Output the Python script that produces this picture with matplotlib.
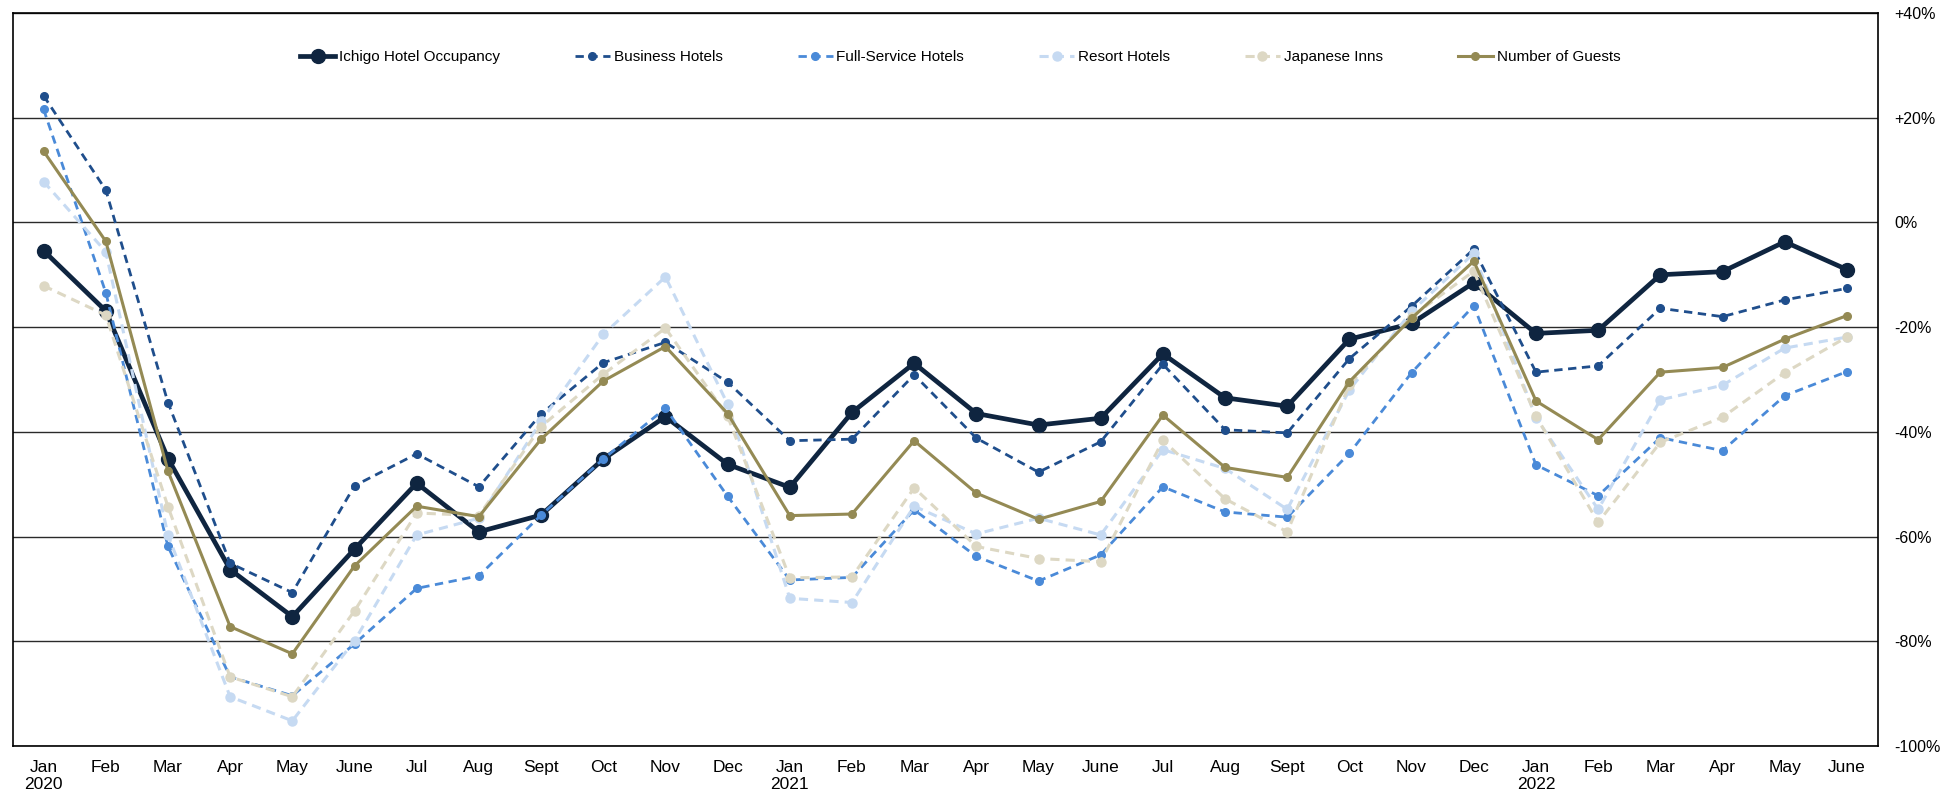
#!/usr/bin/env python3
import matplotlib
matplotlib.use('Agg')
import matplotlib.pyplot as plt
import numpy as np

# month labels, Jan 2020 .. June 2022
months = ['Jan\n2020', 'Feb', 'Mar', 'Apr', 'May', 'June', 'Jul', 'Aug', 'Sept', 'Oct', 'Nov', 'Dec',
          'Jan\n2021', 'Feb', 'Mar', 'Apr', 'May', 'June', 'Jul', 'Aug', 'Sept', 'Oct', 'Nov', 'Dec',
          'Jan\n2022', 'Feb', 'Mar', 'Apr', 'May', 'June']

# values in %
ichigo = [-5.4, -16.9, -45.1, -66.3, -75.3, -62.4, -49.8, -59.1, -55.9, -45.2, -37.1, -46.2,
          -50.6, -36.3, -26.9, -36.5, -38.7, -37.4, -25.1, -33.5, -35.1, -22.3, -19.3, -11.5,
          -21.2, -20.6, -10.0, -9.4, -3.7, -9.0]
business = [24.2, 6.2, -34.4, -65.1, -70.7, -50.3, -44.2, -50.5, -36.6, -26.8, -22.9, -30.5,
            -41.7, -41.4, -29.1, -41.2, -47.7, -41.9, -27.1, -39.6, -40.2, -26.0, -16.0, -5.1,
            -28.6, -27.4, -16.4, -18.0, -14.8, -12.6]
full_service = [21.6, -13.4, -61.9, -86.8, -90.4, -80.5, -69.9, -67.5, -55.9, -45.2, -35.5, -52.3,
                -68.3, -67.8, -54.9, -63.8, -68.5, -63.5, -50.5, -55.3, -56.3, -44.1, -28.7, -15.9,
                -46.3, -52.2, -41.1, -43.6, -33.1, -28.5]
resort = [7.8, -5.6, -59.7, -90.6, -95.2, -79.9, -59.7, -56.5, -38.0, -21.4, -10.4, -34.7,
          -71.8, -72.6, -54.2, -59.5, -56.5, -59.7, -43.4, -47.0, -54.8, -32.0, -17.0, -5.9,
          -37.3, -54.8, -33.9, -31.1, -24.0, -21.9]
inns = [-12.1, -17.7, -54.3, -86.8, -90.6, -74.2, -55.5, -56.0, -39.0, -29.0, -20.2, -37.0,
        -67.9, -67.7, -50.7, -61.9, -64.2, -64.8, -41.6, -52.8, -59.1, -31.0, -18.0, -9.3,
        -37.0, -57.3, -42.0, -37.2, -28.7, -21.9]
guests = [13.6, -3.6, -47.5, -77.2, -82.4, -65.6, -54.2, -56.2, -41.4, -30.3, -23.7, -36.5,
          -56.0, -55.7, -41.7, -51.7, -56.7, -53.3, -36.8, -46.8, -48.7, -30.4, -18.3, -7.4,
          -34.1, -41.5, -28.6, -27.7, -22.3, -17.8]

yticks = [40, 20, 0, -20, -40, -60, -80, -100]
ytick_labels = ['+40%', '+20%', '0%', '-20%', '-40%', '-60%', '-80%', '-100%']

plt.rcParams['font.family'] = ['Liberation Sans', 'DejaVu Sans']

fig = plt.figure(figsize=(19.55, 7.94), dpi=100)
ax = fig.add_axes([0.0064, 0.0605, 0.9542, 0.9231])

x = np.arange(len(months))
dash = (3, 2)
ax.plot(x, ichigo, color='#0f2540', lw=3.4, marker='o', ms=10, label='Ichigo Hotel Occupancy')
ax.plot(x, business, color='#1f4e8c', lw=2, ls=(0, dash), marker='o', ms=5.5, label='Business Hotels')
ax.plot(x, full_service, color='#4a8ad8', lw=2, ls=(0, dash), marker='o', ms=5.5, label='Full-Service Hotels')
ax.plot(x, resort, color='#c6daf2', lw=2.2, ls=(0, dash), marker='o', ms=6.5, label='Resort Hotels')
ax.plot(x, inns, color='#ddd8c4', lw=2.2, ls=(0, dash), marker='o', ms=6.5, label='Japanese Inns')
ax.plot(x, guests, color='#948a54', lw=2.2, marker='o', ms=5.5, label='Number of Guests')

ax.set_xlim(-0.5, len(months) - 0.5)
ax.set_ylim(-100, 40)
ax.set_xticks(x)
ax.set_xticklabels(months, fontsize=12.5)
ax.set_yticks(yticks)
ax.set_yticklabels(ytick_labels, fontsize=11.5)
ax.yaxis.tick_right()
ax.tick_params(axis='both', length=0)
ax.tick_params(axis='x', pad=10)
ax.tick_params(axis='y', pad=12)
for lab in ax.get_yticklabels():
    lab.set_horizontalalignment('left')

ax.grid(axis='y', color='#2a2a2a', lw=1)
ax.set_axisbelow(True)
for s in ax.spines.values():
    s.set_color('black')
    s.set_linewidth(1.2)

ax.legend(loc='center', bbox_to_anchor=(0.508, 0.94), ncol=6, frameon=False, fontsize=11,
          handlelength=2.3, handletextpad=0.25, columnspacing=4.9)

fig.savefig('out.png', dpi=100)
